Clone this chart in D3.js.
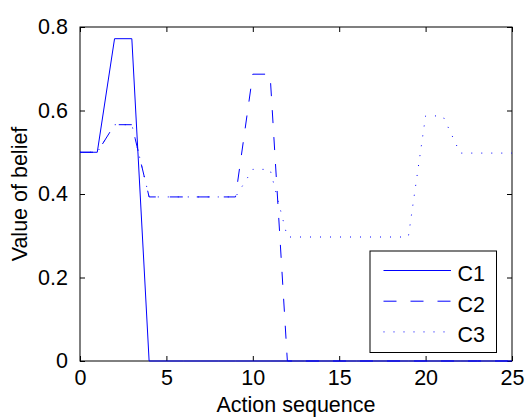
<!DOCTYPE html>
<html>
<head>
<meta charset="utf-8">
<script src="https://cdn.jsdelivr.net/npm/d3@7"></script>
<style>
  html, body { margin: 0; padding: 0; background: #fff; }
  svg { display: block; }
  text { font-family: "Liberation Sans", Arial, Helvetica, sans-serif; }
</style>
</head>
<body>
<svg id="chart" width="526" height="418"></svg>
<script>
// ---- data ----
const steps = d3.range(0, 26);
const c1 = [0.5, 0.5, 0.772, 0.772, 0, 0, 0, 0, 0, 0, 0, 0, 0, 0, 0, 0, 0, 0, 0, 0, 0, 0, 0, 0, 0, 0];
const c2 = [0.5, 0.5, 0.566, 0.566, 0.393, 0.393, 0.393, 0.393, 0.393, 0.393, 0.687, 0.687, 0, 0, 0, 0, 0, 0, 0, 0, 0, 0, 0, 0, 0, 0];
const c3 = [0.5, 0.5, 0.566, 0.566, 0.393, 0.393, 0.393, 0.393, 0.393, 0.393, 0.459, 0.459, 0.297, 0.297, 0.297, 0.297, 0.297, 0.297, 0.297, 0.297, 0.587, 0.587, 0.498, 0.498, 0.498, 0.498];
const seriesNames = ["C1", "C2", "C3"];
const xTicks = [0, 5, 10, 15, 20, 25];
const yTicks = [0, 0.2, 0.4, 0.6, 0.8];
const xLabel = "Action sequence";
const yLabel = "Value of belief";

// ---- layout ----
const L = 80, R = 512, T = 27, B = 361;
const fs = 21.5;
const svg = d3.select("#chart");
const x = d3.scaleLinear().domain([0, 25]).range([L, R]);
const y = d3.scaleLinear().domain([0, 0.8]).range([B, T]);

const series = [
  { name: seriesNames[0], vals: c1, dash: null },
  { name: seriesNames[1], vals: c2, dash: "13,14" },
  { name: seriesNames[2], vals: c3, dash: "1,9" }
];

// axes box
const tickLen = 5;
const gx = svg.append("g").attr("transform", `translate(0,${B})`)
  .call(d3.axisBottom(x).tickValues(xTicks).tickSizeInner(-tickLen).tickSizeOuter(0).tickPadding(9).tickFormat(d3.format("d")));
const gxTop = svg.append("g").attr("transform", `translate(0,${T})`)
  .call(d3.axisTop(x).tickValues(xTicks).tickSizeInner(-tickLen).tickSizeOuter(0).tickFormat(""));
const gy = svg.append("g").attr("transform", `translate(${L},0)`)
  .call(d3.axisLeft(y).tickValues(yTicks).tickSizeInner(-tickLen).tickSizeOuter(0).tickPadding(12).tickFormat(d => d === 0 ? "0" : d3.format(".1f")(d)));
const gyR = svg.append("g").attr("transform", `translate(${R},0)`)
  .call(d3.axisRight(y).tickValues(yTicks).tickSizeInner(-tickLen).tickSizeOuter(0).tickFormat(""));

[gx, gxTop, gy, gyR].forEach(g => {
  g.select(".domain").remove();
  g.selectAll("line").attr("stroke", "#000").attr("stroke-width", 1);
  g.selectAll("text").attr("font-size", fs).attr("fill", "#000")
    .attr("font-family", '"Liberation Sans", Arial, sans-serif');
});

svg.append("rect").attr("x", L).attr("y", T).attr("width", R - L).attr("height", B - T)
  .attr("fill", "none").attr("stroke", "#000").attr("stroke-width", 1);

// lines
const line = d3.line().x((d, i) => x(steps[i])).y(d => y(d));
series.forEach(s => {
  svg.append("path").datum(s.vals)
    .attr("d", line)
    .attr("fill", "none")
    .attr("stroke", "#0000ff")
    .attr("stroke-width", 1)
    .attr("stroke-dasharray", s.dash);
});

// axis labels
svg.append("text").attr("x", (L + R) / 2).attr("y", 412)
  .attr("text-anchor", "middle").attr("font-size", fs).text(xLabel);
svg.append("text").attr("transform", `translate(27,${(T + B) / 2}) rotate(-90)`)
  .attr("text-anchor", "middle").attr("font-size", fs).text(yLabel);

// legend
const lg = svg.append("g");
lg.append("rect").attr("x", 370).attr("y", 251).attr("width", 126.5).attr("height", 101.5)
  .attr("fill", "#fff").attr("stroke", "#000").attr("stroke-width", 1);
series.forEach((s, i) => {
  const base = 281 + i * 30.7;
  const ly = base - 10.5;
  lg.append("line").attr("x1", 383.5).attr("x2", 451).attr("y1", ly).attr("y2", ly)
    .attr("stroke", "#0000ff").attr("stroke-width", 1).attr("stroke-dasharray", s.dash);
  lg.append("text").attr("x", 457.5).attr("y", base).attr("font-size", fs).text(s.name);
});
</script>
</body>
</html>
